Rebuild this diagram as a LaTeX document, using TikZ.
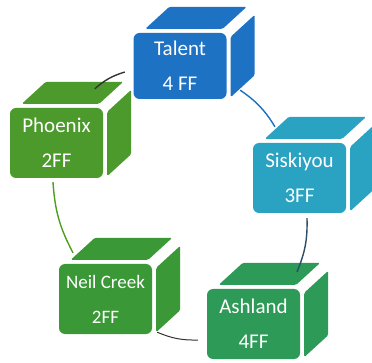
\documentclass[tikz,border=0pt]{standalone}
\usepackage{fontspec}
\setmainfont{Carlito}
\usetikzlibrary{calc}
\definecolor{talentc}{HTML}{1E72C4}
\definecolor{siskc}{HTML}{2AA2C2}
\definecolor{phoenc}{HTML}{4B9A2B}
\definecolor{neilc}{HTML}{3A9836}
\definecolor{ashc}{HTML}{2D9A57}
\definecolor{darkc}{HTML}{333333}
\definecolor{greenline}{HTML}{4E9E1E}
\definecolor{blueline}{HTML}{1E6FC0}
\definecolor{tealdark}{HTML}{2C4E66}
\tikzset{
  frontface/.style={draw=none, rounded corners=6pt, minimum width=93pt, minimum height=70pt,
    inner sep=0pt, align=center, text=white, font=\fontsize{21}{35}\selectfont},
  conn/.style={line width=1.4pt, bend left=12},
}
\newcommand{\cubeparts}[2]{%
  \fill[#2, rounded corners=1.5pt] ($(#1.north west)+(12,-4)$) -- ($(#1.north east)+(-4,-4)$)
     -- ++(24,-22) -- ($(#1.north west)+(36,-26)$) -- cycle;
  \fill[#2, rounded corners=1.5pt] ($(#1.north east)+(4,4)$) -- ++(24,-22)
     -- ($(#1.south east)+(28,-24)$) -- ($(#1.south east)+(4,-2)$) -- cycle;
}
\begin{document}
\begin{tikzpicture}[x=1pt,y=-1pt]
\useasboundingbox (0,0) rectangle (372,363);
\node[frontface, fill=talentc, minimum height=66pt] (talent) at (180,66) {Talent\\4 FF};
\node[frontface, fill=phoenc] (phoenix) at (56.5,143) {Phoenix\\2FF};
\node[frontface, fill=siskc] (siskiyou) at (299.5,178) {Siskiyou\\3FF};
\node[frontface, fill=neilc, font=\fontsize{19}{35}\selectfont] (neil) at (105.5,299) {Neil Creek\\2FF};
\node[frontface, fill=ashc] (ashland) at (253.5,324) {Ashland\\4FF};
\cubeparts{talent}{talentc}
\cubeparts{phoenix}{phoenc}
\cubeparts{siskiyou}{siskc}
\cubeparts{neil}{neilc}
\cubeparts{ashland}{ashc}
\draw[conn, draw=darkc] ($(phoenix.north west)+(85,-19)$) to ($(talent.west)+(-8.5,6)$);
\draw[conn, draw=blueline] ($(talent.south east)+(13.5,-9)$) to ($(siskiyou.north)+(-24.5,-16)$);
\draw[conn, draw=tealdark] ($(siskiyou.south)+(7.5,5)$) to ($(ashland.north)+(43.5,-17)$);
\draw[conn, draw=darkc, line width=1pt] ($(ashland.west)+(-9,16)$) to ($(neil.south east)+(5,-2)$);
\draw[conn, draw=greenline] ($(neil.north)+(-32.5,-11)$) to ($(phoenix.south)+(-3.5,4)$);
\end{tikzpicture}
\end{document}
